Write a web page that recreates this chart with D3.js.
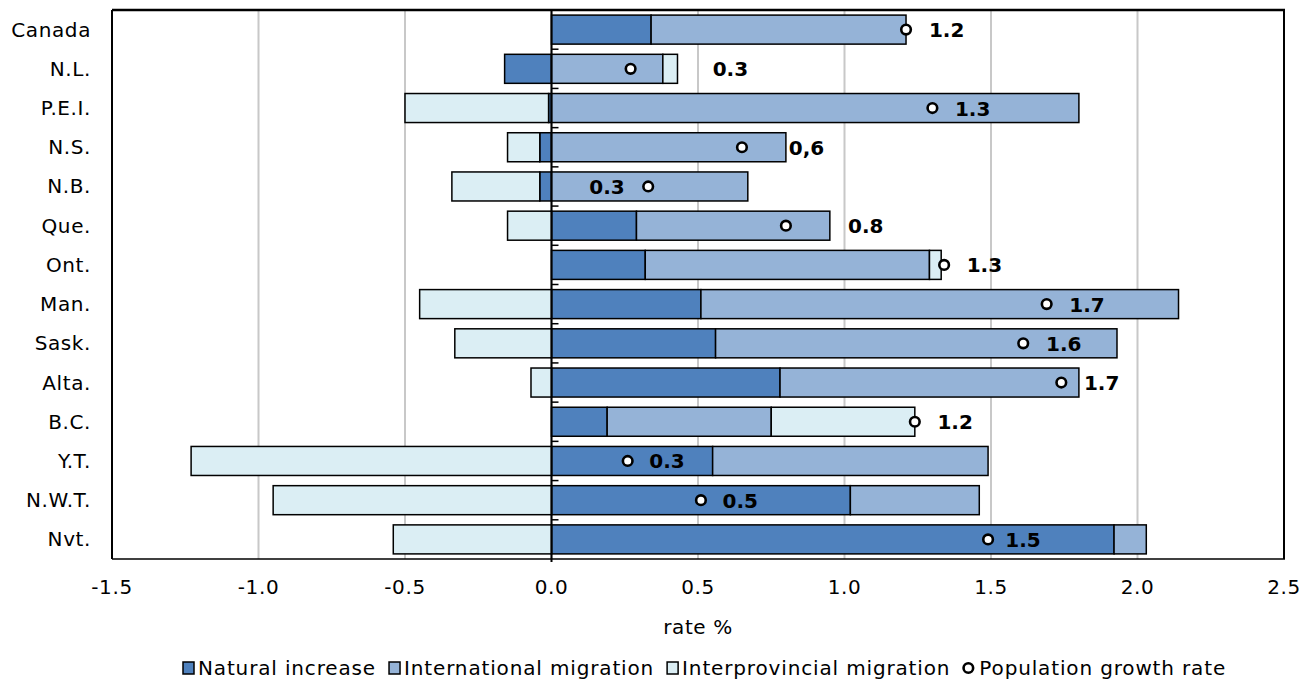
<!DOCTYPE html>
<html><head><meta charset="utf-8">
<script src="https://cdn.jsdelivr.net/npm/d3@7"></script>
<style>body{margin:0;background:#fff}svg{display:block}text{font-family:"DejaVu Sans",Verdana,sans-serif}</style>
</head><body><svg id="c" width="1312" height="681"></svg>
<script>
const categories = ["Canada","N.L.","P.E.I.","N.S.","N.B.","Que.","Ont.","Man.","Sask.","Alta.","B.C.","Y.T.","N.W.T.","Nvt."];
const naturalIncrease = [0.34,-0.16,-0.01,-0.04,-0.04,0.29,0.32,0.51,0.56,0.78,0.19,0.55,1.02,1.92];
const internationalMigration = [0.87,0.38,1.80,0.80,0.67,0.66,0.97,1.63,1.37,1.02,0.56,0.94,0.44,0.11];
const interprovincialMigration = [0.00,0.05,-0.49,-0.11,-0.30,-0.15,0.04,-0.45,-0.33,-0.07,0.49,-1.23,-0.95,-0.54];
const growthRate = [1.21,0.27,1.30,0.65,0.33,0.80,1.34,1.69,1.61,1.74,1.24,0.26,0.51,1.49];
const growthLabels = ["1.2","0.3","1.3","0,6","0.3","0.8","1.3","1.7","1.6","1.7","1.2","0.3","0.5","1.5"];
const labelAt = [1.288,0.550,1.377,0.810,0.129,1.012,1.417,1.767,1.688,1.817,1.317,0.334,0.584,1.549];
const xTicks = [-1.5,-1.0,-0.5,0.0,0.5,1.0,1.5,2.0,2.5];
const xTickLabels = ["-1.5","-1.0","-0.5","0.0","0.5","1.0","1.5","2.0","2.5"];
const seriesNames = ["Natural increase","International migration","Interprovincial migration"];
const seriesColors = ["#4f81bd","#95b3d7","#dbeef4"];
const dotName = "Population growth rate";
const axisTitle = "rate %";

const svg = d3.select("#c");
const L = 112, R = 1284, T = 10, B = 559;
const LS = "0.6px", LSL = "0.85px";
const x = d3.scaleLinear().domain([-1.5,2.5]).range([L,R]);
const y = d3.scaleBand().domain(categories).range([T,B]).paddingInner(0.26).paddingOuter(0.13);

// gridlines
svg.append("g").selectAll("line").data(xTicks.slice(1,-1)).join("line")
  .attr("x1",d=>x(d)).attr("x2",d=>x(d)).attr("y1",T).attr("y2",B)
  .attr("stroke","#c8c8c8").attr("stroke-width",2);

// stacked data
const rows = categories.map((c,i)=>({cat:c,s0:naturalIncrease[i],s1:internationalMigration[i],s2:interprovincialMigration[i]}));
const stack = d3.stack().keys(["s0","s1","s2"]).offset(d3.stackOffsetDiverging);
const layers = stack(rows);
const gBars = svg.append("g");
layers.forEach((layer,k)=>{
  gBars.append("g").selectAll("rect").data(layer.filter(d=>d[1]!==d[0])).join("rect")
    .attr("x",d=>x(Math.min(d[0],d[1])))
    .attr("width",d=>Math.abs(x(d[1])-x(d[0])))
    .attr("y",d=>y(d.data.cat)).attr("height",y.bandwidth())
    .attr("fill",seriesColors[k]).attr("stroke","#000").attr("stroke-width",1.5);
});

// zero axis with ticks
svg.append("line").attr("x1",x(0)).attr("x2",x(0)).attr("y1",T).attr("y2",B+3)
  .attr("stroke","#000").attr("stroke-width",2);
const step = y.step();
svg.append("g").selectAll("line").data(categories.slice(1)).join("line")
  .attr("x1",x(0)).attr("x2",x(0)+7)
  .attr("y1",d=>y(d)-(step-y.bandwidth())/2).attr("y2",d=>y(d)-(step-y.bandwidth())/2)
  .attr("stroke","#000").attr("stroke-width",1.5);

// frame
svg.append("line").attr("x1",L).attr("x2",R+1).attr("y1",T).attr("y2",T).attr("stroke","#000").attr("stroke-width",2.5);
svg.append("line").attr("x1",L).attr("x2",L).attr("y1",T).attr("y2",B).attr("stroke","#000").attr("stroke-width",2);
svg.append("line").attr("x1",R).attr("x2",R).attr("y1",T).attr("y2",B).attr("stroke","#000").attr("stroke-width",2);
svg.append("line").attr("x1",L).attr("x2",R+1).attr("y1",B).attr("y2",B).attr("stroke","#000").attr("stroke-width",1.5);

// dots
svg.append("g").selectAll("circle").data(categories).join("circle")
  .attr("cx",(d,i)=>x(growthRate[i])).attr("cy",d=>y(d)+y.bandwidth()/2).attr("r",4.8)
  .attr("fill","#fff").attr("stroke","#000").attr("stroke-width",2.6);

// value labels
svg.append("g").selectAll("text").data(categories).join("text")
  .attr("x",(d,i)=>x(labelAt[i])).attr("y",d=>y(d)+y.bandwidth()/2+7.5)
  .attr("font-size",20).attr("font-weight","bold").attr("fill","#000")
  .text((d,i)=>growthLabels[i]);

// category labels
svg.append("g").selectAll("text").data(categories).join("text")
  .attr("x",91).attr("y",d=>y(d)+y.bandwidth()/2+7).attr("text-anchor","end")
  .attr("font-size",20).attr("letter-spacing",LS).attr("fill","#000").text(d=>d);

// x tick labels
svg.append("g").selectAll("text").data(xTicks).join("text")
  .attr("x",d=>x(d)).attr("y",594).attr("text-anchor","middle")
  .attr("font-size",20).attr("letter-spacing",LS).attr("fill","#000").text((d,i)=>xTickLabels[i]);

svg.append("text").attr("x",(L+R)/2).attr("y",634).attr("text-anchor","middle")
  .attr("font-size",20).attr("letter-spacing",LS).attr("fill","#000").text(axisTitle);

// legend
const lg = svg.append("g");
let cx = 183; const ly = 668;
seriesNames.forEach((n,k)=>{
  lg.append("rect").attr("x",cx).attr("y",ly-6).attr("width",11).attr("height",12)
    .attr("fill",seriesColors[k]).attr("stroke","#000").attr("stroke-width",1.5);
  const t = lg.append("text").attr("x",cx+15).attr("y",ly+7).attr("font-size",20).attr("letter-spacing",LSL).attr("fill","#000").text(n);
  cx += 15 + t.node().getComputedTextLength() + 13;
});
lg.append("circle").attr("cx",cx+5).attr("cy",ly).attr("r",4.8).attr("fill","#fff").attr("stroke","#000").attr("stroke-width",2.6);
lg.append("text").attr("x",cx+16).attr("y",ly+7).attr("font-size",20).attr("letter-spacing",LSL).attr("fill","#000").text(dotName);
</script></body></html>
